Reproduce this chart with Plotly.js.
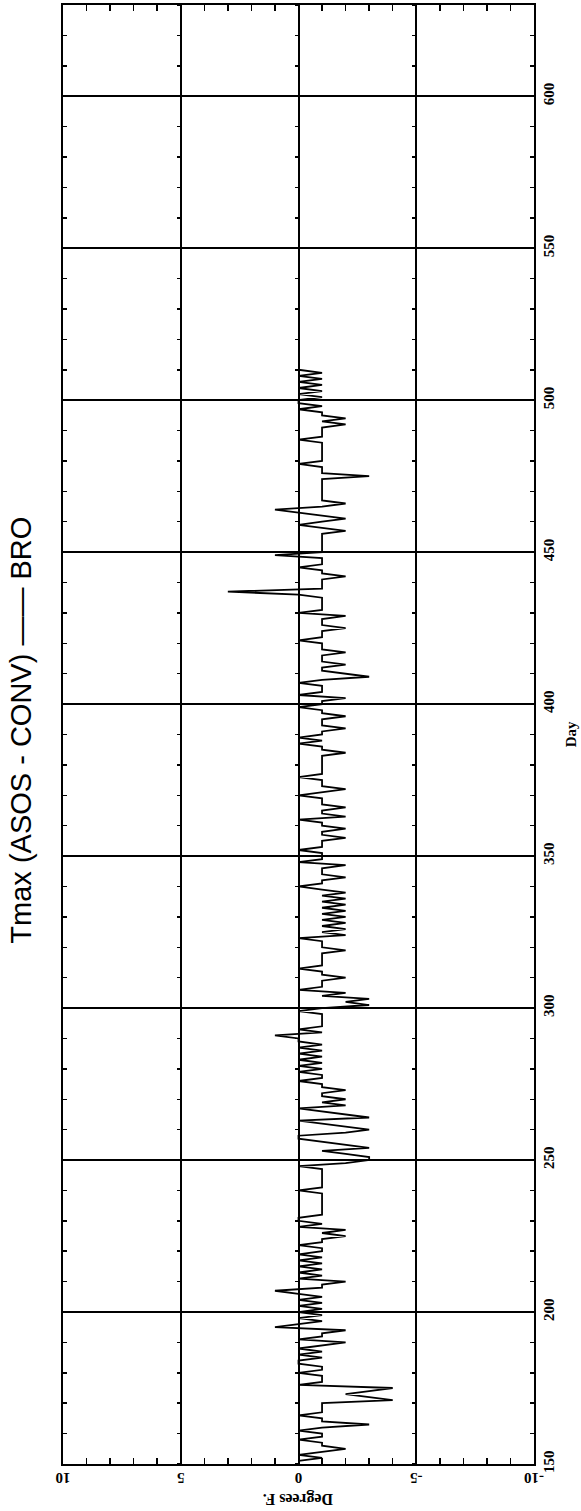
<!DOCTYPE html>
<html><head><meta charset="utf-8">
<script src="https://cdn.plot.ly/plotly-3.0.1.min.js"></script>
<style>html,body{margin:0;padding:0;background:#fff}#chart{width:581px;height:1511px}</style>
</head><body><div id="chart"></div>
<script>
const titleText = "Tmax (ASOS - CONV) \u2014\u2014 BRO";
const dayAxisLabel = "Day";
const degAxisLabel = "Degrees F.";
const dayTickVals = [150, 200, 250, 300, 350, 400, 450, 500, 550, 600];
const degTickVals = [10, 5, 0, -5, -10];
const firstDay = 151;
const diff151to200 = [0,-1,0,-1,-2,-1,-1,0,-1,-1, 0,-1,-3,-1,-1,0,-1,-1,-1,-1, -4,-3,-2,-3,-4,0,-1,-1,-1,0, -1,-1,0,0,-1,0,-1,0,-1,-2, 0,-1,-1,-2,1,0,-1,0,-1,0];
const diff201to250 = [-1,0,-1,0,-1,0,1,-1,-1,-2, 0,-1,0,-1,0,-1,0,-1,0,-1, -1,0,-1,-1,-2,-1,-2,0,-1,0, 0,-1,-1,-1,-1,-1,-1,-1,-1,0, -1,-1,-1,-1,-1,-1,-1,0,-2,-3];
const diff251to300 = [-3,-2,-1,-3,-2,-1,0,0,-2,-3, -2,-1,0,-3,-2,-1,0,-2,-1,-2, -1,-1,-2,-1,-1,0,-1,-1,0,-1, 0,-1,0,-1,0,-1,0,-1,0,0, 1,-1,0,-1,-1,-1,-1,-1,0,-1];
const diff301to350 = [-3,-2,-3,-1,-2,0,-1,-1,-1,-2, -1,-1,0,-1,-1,-1,-1,-1,-2,-1, -1,-1,0,-2,-1,-2,-1,-2,-1,-2, -1,-2,-1,-2,-1,-2,-1,-2,-1,0, -1,-1,-2,-1,-1,-1,-2,0,-1,-1];
const diff351to400 = [-1,0,-1,-1,-1,-2,-1,-1,-2,-1, -1,0,-2,-1,-1,-2,-1,-1,-1,0, -1,-2,-1,-1,-1,0,-1,-1,-1,-1, -1,-1,-1,-2,-1,-1,0,-1,0,-1, -1,-2,-1,-1,-1,-2,-1,-1,0,-1];
const diff401to450 = [-1,-2,0,-1,-1,-1,0,-1,-3,-2, -1,-1,-2,-1,-1,-1,-2,-1,-1,-1, 0,-1,-1,-1,-2,-1,-1,-1,-2,0, -1,-1,-1,-1,-1,0,3,-1,-1,-1, -1,-2,-1,-1,0,-1,-1,-1,1,-1];
const diff451to510 = [-1,-1,-1,-1,-1,-1,-2,-1,0,-1, -2,-1,0,1,-1,-2,-1,-1,-1,-1, -1,-1,-1,-1,-3,-1,-1,-1,0,-1, -1,-1,-1,-1,-1,-1,0,-1,-1,-1, -1,-2,-1,-2,-1,-1,0,-1,0,0, -1,0,-1,0,-1,0,-1,0,-1,0];

const tmaxDiff = [].concat(diff151to200, diff201to250, diff251to300, diff301to350, diff351to400, diff401to450, diff451to510);
const days = tmaxDiff.map((_, i) => firstDay + i);

const serifBold = 'Liberation Serif, Times New Roman, serif';
const tickFont = {family: serifBold, size: 15, color: '#000', weight: 'bold'};
const dayRange = [150, 630];
const degRange = [10, -10];

const trace = {
  type: 'scatter', mode: 'lines',
  x: tmaxDiff, y: days,
  line: {color: '#000', width: 1.8},
  hoverinfo: 'skip'
};

// empty helper traces so the grid-line tick axes get drawn
const helperTraces = ['y2', 'y3', 'y4'].map(ax => ({
  type: 'scatter', mode: 'lines', x: [], y: [], xaxis: 'x', yaxis: ax,
  hoverinfo: 'skip', showlegend: false
}));

// small tick marks running along the interior vertical grid lines (every 10 days)
function gridTickAxis(pos) {
  return {
    overlaying: 'y', anchor: 'free', position: pos, side: 'left',
    range: dayRange, autorange: false, showgrid: false, zeroline: false, showline: false,
    showticklabels: false, ticks: 'outside', dtick: 10, tick0: 150, ticklen: 4, tickwidth: 1.5, tickcolor: '#000',
    fixedrange: true
  };
}

const layout = {
  width: 581, height: 1511,
  margin: {l: 63, r: 47, t: 5, b: 47, pad: 0},
  paper_bgcolor: '#fff', plot_bgcolor: '#fff',
  showlegend: false,
  xaxis: {
    range: degRange, tickvals: degTickVals, ticktext: degTickVals.map(String),
    tickangle: 180, tickfont: tickFont, ticklabelstandoff: 4,
    showgrid: true, gridcolor: '#000', gridwidth: 2,
    zeroline: true, zerolinecolor: '#000', zerolinewidth: 2,
    showline: true, linecolor: '#000', linewidth: 2, mirror: 'allticks',
    ticks: 'inside', ticklen: 6, tickwidth: 1.5, tickcolor: '#000',
    minor: {dtick: 1, ticks: 'inside', ticklen: 4, tickwidth: 1.5, tickcolor: '#000', showgrid: false},
    fixedrange: true
  },
  yaxis: {
    range: dayRange, side: 'right', tickvals: dayTickVals,
    tickangle: -90, tickfont: tickFont,
    showgrid: true, gridcolor: '#000', gridwidth: 2,
    zeroline: false,
    showline: true, linecolor: '#000', linewidth: 2, mirror: 'allticks',
    ticks: 'inside', ticklen: 6, tickwidth: 1.5, tickcolor: '#000',
    minor: {dtick: 10, ticks: 'inside', ticklen: 4, tickwidth: 1.5, tickcolor: '#000', showgrid: false},
    fixedrange: true
  },
  yaxis2: gridTickAxis(0.25),
  yaxis3: gridTickAxis(0.5),
  yaxis4: gridTickAxis(0.75),
  annotations: [
    {text: titleText, xref: 'paper', yref: 'paper', x: -0.088, y: 0.503, textangle: -90,
     showarrow: false, xanchor: 'center', yanchor: 'middle',
     font: {family: 'Liberation Sans, Arial, sans-serif', size: 29, color: '#000'}},
    {text: degAxisLabel, xref: 'paper', yref: 'paper', x: 0.499, y: -0.0245, textangle: 180,
     showarrow: false, xanchor: 'center', yanchor: 'middle',
     font: {family: serifBold, size: 16, color: '#000', weight: 'bold'}},
    {text: dayAxisLabel, xref: 'paper', yref: 'paper', x: 1.078, y: 0.5, textangle: -90,
     showarrow: false, xanchor: 'center', yanchor: 'middle',
     font: {family: serifBold, size: 15, color: '#000', weight: 'bold'}}
  ]
};

Plotly.newPlot('chart', [trace].concat(helperTraces), layout, {displayModeBar: false, staticPlot: true});
</script>
</body></html>
